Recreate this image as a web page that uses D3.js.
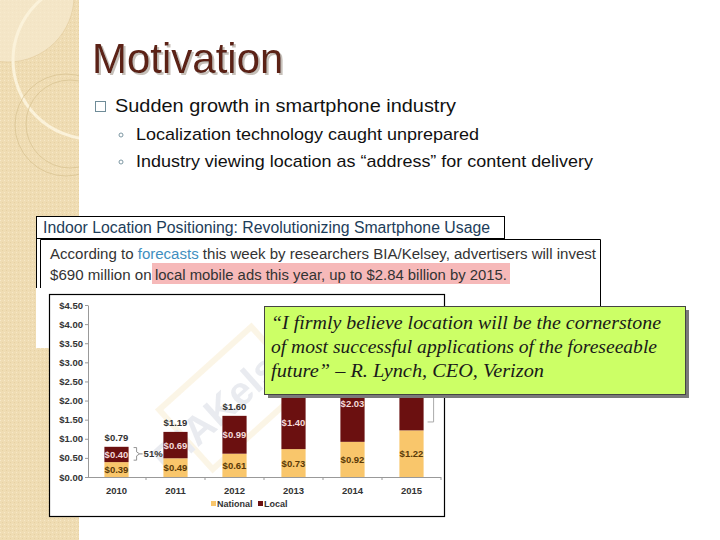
<!DOCTYPE html>
<html>
<head>
<meta charset="utf-8">
<script src="https://cdn.jsdelivr.net/npm/d3@7"></script>
<style>
  html, body { margin: 0; padding: 0; background: #fff; }
  svg { display: block; }
</style>
</head>
<body>
<svg id="slide" width="720" height="540"></svg>
<script>
// ---------------- data ----------------
const years = ["2010", "2011", "2012", "2013", "2014", "2015"];
const national = [0.39, 0.49, 0.61, 0.73, 0.92, 1.22];
const local = [0.40, 0.69, 0.99, 1.40, 2.03, 2.84];
const totals = [0.79, 1.19, 1.60, 2.13, 2.95, 4.06];
const yTicks = [0, 0.5, 1, 1.5, 2, 2.5, 3, 3.5, 4, 4.5];
const seriesNames = ["National", "Local"];

const titleText = "Motivation";
const bulletMain = "Sudden growth in smartphone industry";
const subBullets = ["Localization technology caught unprepared",
                    "Industry viewing location as \u201caddress\u201d for content delivery"];
const headerText = "Indoor Location Positioning: Revolutionizing Smartphone Usage";
const quoteLines = ["\u201cI firmly believe location will be the cornerstone",
                    "of most successful applications of the foreseeable",
                    "future\u201d \u2013 R. Lynch, CEO, Verizon"];

// ---------------- setup ----------------
const svg = d3.select("#slide");
const SANS = "'Liberation Sans', Arial, sans-serif";
const natColor = "#f9c66b";
const locColor = "#6b1010";

const defs = svg.append("defs");
const pat = defs.append("pattern").attr("id", "tex").attr("width", 4).attr("height", 4)
  .attr("patternUnits", "userSpaceOnUse");
pat.append("rect").attr("width", 4).attr("height", 4).attr("fill", "#efdcb3");
pat.append("rect").attr("x", 0).attr("y", 0).attr("width", 1).attr("height", 1).attr("fill", "#f7e9c8");
pat.append("rect").attr("x", 2).attr("y", 2).attr("width", 1).attr("height", 1).attr("fill", "#e6d1a3");
const shadow = defs.append("filter").attr("id", "tshadow").attr("x", "-10%").attr("y", "-20%")
  .attr("width", "130%").attr("height", "150%");
shadow.append("feDropShadow").attr("dx", 2).attr("dy", 2).attr("stdDeviation", 0.6)
  .attr("flood-color", "#b8b0a8").attr("flood-opacity", 0.8);

// left decorative strip
svg.append("rect").attr("x", 0).attr("y", 0).attr("width", 79).attr("height", 540).attr("fill", "url(#tex)");
const strip = svg.append("g");
strip.append("clipPath").attr("id", "stripClip").append("rect").attr("width", 79).attr("height", 540);
const sg = strip.append("g").attr("clip-path", "url(#stripClip)");
sg.append("circle").attr("cx", 8).attr("cy", -4).attr("r", 66).attr("fill", "#f6ead0").attr("fill-opacity", 0.7)
  .attr("stroke", "#e0c99a").attr("stroke-width", 0.6);
sg.append("circle").attr("cx", 92).attr("cy", 60).attr("r", 79).attr("fill", "none")
  .attr("stroke", "#fbf2da").attr("stroke-width", 3);
sg.append("circle").attr("cx", 66).attr("cy", 125).attr("r", 51).attr("fill", "none")
  .attr("stroke", "#d9c493").attr("stroke-width", 0.8);
sg.append("circle").attr("cx", 70).attr("cy", 124).attr("r", 44).attr("fill", "none")
  .attr("stroke", "#d9c493").attr("stroke-width", 0.8);

// title
svg.append("text").attr("x", 92).attr("y", 73).text(titleText)
  .attr("font-family", SANS).attr("font-size", 42).attr("fill", "#5b2318")
  .attr("filter", "url(#tshadow)");

// bullets
svg.append("rect").attr("x", 95.5).attr("y", 101.5).attr("width", 10).attr("height", 10)
  .attr("fill", "none").attr("stroke", "#6f8c98").attr("stroke-width", 1);
svg.append("text").attr("x", 115).attr("y", 112).text(bulletMain)
  .attr("font-family", SANS).attr("font-size", 19).attr("fill", "#111")
  .attr("textLength", 341).attr("lengthAdjust", "spacingAndGlyphs");
const subWidths = [343, 457];
subBullets.forEach((t, i) => {
  const by = 140 + i * 27;
  svg.append("circle").attr("cx", 121).attr("cy", by - 5).attr("r", 2)
    .attr("fill", "none").attr("stroke", "#6f8c98").attr("stroke-width", 0.9);
  svg.append("text").attr("x", 136).attr("y", by).text(t)
    .attr("font-family", SANS).attr("font-size", 17).attr("fill", "#111")
    .attr("textLength", subWidths[i]).attr("lengthAdjust", "spacingAndGlyphs");
});

// pasted article image
svg.append("rect").attr("x", 36).attr("y", 216).attr("width", 50).attr("height", 132).attr("fill", "#fff");
svg.append("rect").attr("x", 36.5).attr("y", 216.5).attr("width", 468).attr("height", 22)
  .attr("fill", "#fff").attr("stroke", "#000").attr("stroke-width", 1);
svg.append("line").attr("x1", 36.5).attr("x2", 36.5).attr("y1", 216).attr("y2", 288).attr("stroke", "#000");
svg.append("text").attr("x", 43).attr("y", 232.5).text(headerText)
  .attr("font-family", SANS).attr("font-size", 15.8).attr("fill", "#1d3d5a")
  .attr("textLength", 447).attr("lengthAdjust", "spacingAndGlyphs");

svg.append("rect").attr("x", 40).attr("y", 239).attr("width", 561).attr("height", 66).attr("fill", "#fff");
svg.append("path").attr("d", "M40.5,288 V239.5 H600.5 V306").attr("fill", "none").attr("stroke", "#000");
svg.append("rect").attr("x", 152).attr("y", 263).attr("width", 358).attr("height", 21).attr("fill", "#f6b9b9");
const l1 = svg.append("text").attr("x", 50).attr("y", 258.5)
  .attr("font-family", SANS).attr("font-size", 15.1).attr("fill", "#333")
  .attr("textLength", 546).attr("lengthAdjust", "spacingAndGlyphs");
l1.append("tspan").text("According to ");
l1.append("tspan").attr("fill", "#3f8fc0").text("forecasts");
l1.append("tspan").text(" this week by researchers BIA/Kelsey, advertisers will invest");
const l2 = svg.append("text").attr("x", 50).attr("y", 279.5)
  .attr("font-family", SANS).attr("font-size", 15.1).attr("fill", "#333");
l2.append("tspan").text("$690 million on ");
l2.append("tspan").attr("x", 155).attr("textLength", 352).attr("lengthAdjust", "spacingAndGlyphs")
  .text("local mobile ads this year, up to $2.84 billion by 2015.");

// ---------------- chart ----------------
svg.append("rect").attr("x", 49.5).attr("y", 294.5).attr("width", 395).attr("height", 222)
  .attr("fill", "#fff").attr("stroke", "#000").attr("stroke-width", 1.2);

// watermark
const wm = svg.append("g").attr("transform", "translate(232,398) rotate(-42)").attr("opacity", 0.25);
wm.append("rect").attr("x", -62).attr("y", -40).attr("width", 124).attr("height", 80)
  .attr("fill", "none").attr("stroke", "#f3d9a0").attr("stroke-width", 6);
wm.append("text").attr("x", 0).attr("y", 14).attr("text-anchor", "middle")
  .attr("font-family", SANS).attr("font-weight", "bold").attr("font-size", 40)
  .attr("fill", "#aab2c4").text("BIAKelsey");

const x = d3.scaleBand().domain(years).range([87, 441]).paddingInner(0.59).paddingOuter(0.295);
const y = d3.scaleLinear().domain([0, 4.5]).range([477, 305]);
const FS = 9.5;

const chart = svg.append("g");

// y axis
const yAxis = chart.append("g").attr("transform", "translate(88,0)")
  .call(d3.axisLeft(y).tickValues(yTicks).tickFormat(d => "$" + d.toFixed(2)).tickSize(3).tickSizeOuter(0));
yAxis.select(".domain").attr("stroke", "#999");
yAxis.selectAll(".tick line").attr("stroke", "#999");
yAxis.selectAll(".tick text").attr("font-family", SANS).attr("font-weight", "bold")
  .attr("font-size", FS).attr("fill", "#333").attr("x", -5);

// x axis
const xAxis = chart.append("g").attr("transform", "translate(0,477)")
  .call(d3.axisBottom(x).tickSize(0).tickPadding(10));
xAxis.select(".domain").attr("stroke", "#999").attr("d", "M88,0.5H441");
xAxis.selectAll(".tick text").attr("font-family", SANS).attr("font-weight", "bold")
  .attr("font-size", FS).attr("fill", "#333");
years.forEach((yr, i) => {
  const bx = x(yr) - x.step() * x.paddingInner() / 2;
  if (i > 0) chart.append("line").attr("x1", bx).attr("x2", bx).attr("y1", 477).attr("y2", 480).attr("stroke", "#999");
});
chart.append("line").attr("x1", 441).attr("x2", 441).attr("y1", 477).attr("y2", 480).attr("stroke", "#999");

// callout box geometry (labels hidden under it are not drawn)
const callout = { x: 264.5, y: 306.5, w: 421, h: 88 };
const hidden = (px, py) => px > callout.x - 15 && py < callout.y + callout.h + 6;

// bars
const stackData = years.map((yr, i) => ({ year: yr, National: national[i], Local: local[i] }));
const stacked = d3.stack().keys(seriesNames)(stackData);
const colors = { National: natColor, Local: locColor };
const labelColors = { National: "#5a3a08", Local: "#f4dada" };

stacked.forEach(layer => {
  const key = layer.key;
  chart.append("g").selectAll("rect").data(layer).join("rect")
    .attr("x", d => x(d.data.year))
    .attr("width", x.bandwidth())
    .attr("y", d => y(d[1]))
    .attr("height", d => y(d[0]) - y(d[1]))
    .attr("fill", colors[key]);
  const vis = layer.filter(d => !hidden(x(d.data.year) + x.bandwidth() / 2, (y(d[0]) + y(d[1])) / 2 + 3));
  chart.append("g").selectAll("text").data(vis).join("text")
    .attr("x", d => x(d.data.year) + x.bandwidth() / 2)
    .attr("y", d => (y(d[0]) + y(d[1])) / 2 + 3.5)
    .attr("text-anchor", "middle")
    .attr("font-family", SANS).attr("font-weight", "bold").attr("font-size", FS)
    .attr("fill", labelColors[key])
    .text(d => "$" + (d[1] - d[0]).toFixed(2));
});

// totals
const totVis = years.map((yr, i) => ({ yr, v: totals[i] }))
  .filter(d => !hidden(x(d.yr) + x.bandwidth() / 2, y(d.v) - 6));
chart.append("g").selectAll("text").data(totVis).join("text")
  .attr("x", d => x(d.yr) + x.bandwidth() / 2)
  .attr("y", d => y(d.v) - 6)
  .attr("text-anchor", "middle")
  .attr("font-family", SANS).attr("font-weight", "bold").attr("font-size", FS).attr("fill", "#333")
  .text(d => "$" + d.v.toFixed(2));

// brackets
function bracket(x0, yTop, yBot, w) {
  const ym = (yTop + yBot) / 2;
  return `M${x0},${yTop} H${x0 + w} V${ym - 2} L${x0 + w + 3},${ym} L${x0 + w},${ym + 2} V${yBot} H${x0}`;
}
const b0x = x(years[0]) + x.bandwidth() + 5;
const bm = (y(0.77) + y(0.44)) / 2;
chart.append("path").attr("d", bracket(b0x, y(0.77), y(0.44), 3))
  .attr("fill", "none").attr("stroke", "#888").attr("stroke-width", 0.9);
chart.append("line").attr("x1", b0x + 6).attr("x2", b0x + 9)
  .attr("y1", bm).attr("y2", bm).attr("stroke", "#888");
chart.append("text").attr("x", b0x + 10).attr("y", bm + 3.5)
  .attr("font-family", SANS).attr("font-weight", "bold").attr("font-size", FS).attr("fill", "#333")
  .text("51%");
const b5x = x(years[5]) + x.bandwidth() + 4;
chart.append("path").attr("d", bracket(b5x, y(3.9), y(1.44), 6))
  .attr("fill", "none").attr("stroke", "#aaa").attr("stroke-width", 1);

// legend
const legend = chart.append("g").attr("transform", "translate(211,507)");
const legX = [0, 47];
seriesNames.forEach((s, i) => {
  legend.append("rect").attr("x", legX[i]).attr("y", -6).attr("width", 5).attr("height", 5).attr("fill", colors[s]);
  legend.append("text").attr("x", legX[i] + 6).attr("y", 0)
    .attr("font-family", SANS).attr("font-weight", "bold").attr("font-size", 9).attr("fill", "#333").text(s);
});

// ---------------- callout ----------------
svg.append("rect").attr("x", callout.x + 3.5).attr("y", callout.y + 3.5).attr("width", callout.w).attr("height", callout.h).attr("fill", "#7a7a7a");
svg.append("rect").attr("x", callout.x).attr("y", callout.y).attr("width", callout.w).attr("height", callout.h)
  .attr("fill", "#ccff66").attr("stroke", "#444").attr("stroke-width", 1);
const qWidths = [390, 386, 273];
quoteLines.forEach((t, i) => {
  svg.append("text").attr("x", 271).attr("y", 329 + i * 24).text(t)
    .attr("font-family", "'Liberation Serif', 'DejaVu Serif', serif").attr("font-style", "italic")
    .attr("font-size", 18).attr("fill", "#1a1a1a")
    .attr("textLength", qWidths[i]).attr("lengthAdjust", "spacingAndGlyphs");
});
</script>
</body>
</html>
